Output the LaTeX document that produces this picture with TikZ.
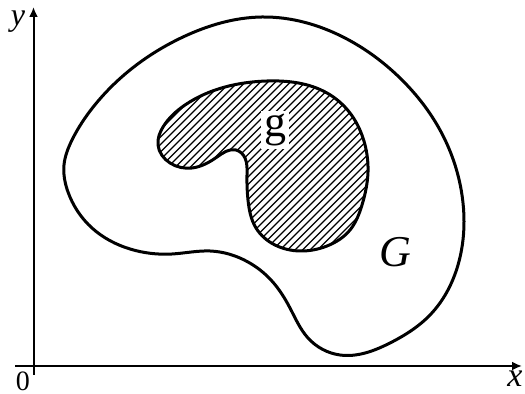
\documentclass[tikz,border=0pt]{standalone}
\usepackage{fontspec}
\setmainfont{Liberation Serif}
\usetikzlibrary{arrows.meta,hobby}
\begin{document}
\begin{tikzpicture}[x=0.5pt,y=-0.5pt,
  curve/.style={line width=1.5pt, line join=round},
  axis/.style={line width=1pt,-{Latex[length=5pt,width=4.5pt]}},
  hatch/.style={line width=0.55pt},
  lbl/.style={inner sep=0pt}]
\useasboundingbox (0,0) rectangle (525,394);
\newcommand\innerregion{(267,81) .. (327,93) .. (350,113) .. (363,138) .. (368,172) .. (362,205) .. (350,230) .. (327,246) .. (300,251) .. (275,245) .. (256,228) .. (248,200) .. (247,175) .. (245,158) .. (236,150) .. (217,157) .. (192,168) .. (170,163) .. (158,145) .. (163,127) .. (185,105) .. (225,87)}
% axes
\coordinate (o) at (33.5,366);
\coordinate (ybot) at (33.5,375);
\coordinate (ytop) at (33.5,7);
\coordinate (xleft) at (15,366);
\coordinate (xright) at (522,366);
\draw[axis] (ybot) -- (ytop);
\draw[axis] (xleft) -- (xright);
\node[lbl,font=\fontsize{16}{18}\selectfont\itshape] (ylab) at (18,22) {y};
\node[lbl,font=\fontsize{17}{19}\selectfont\itshape] (xlab) at (515,379) {x};
\node[lbl,font=\fontsize{14}{16}\selectfont] (zero) at (23,381) {0};
% outer region G
\draw[curve, use Hobby shortcut, closed=true]
  (262,17) .. (345,38) .. (400,78) .. (440,130) .. (462,195) .. (458,265) .. (430,315) .. (390,343) .. (340,355) .. (308,338) .. (290,308) .. (271,280) .. (248,262) .. (210,251) .. (172,254) .. (130,249) .. (92,228) .. (68,192) .. (64,165) .. (72,140) .. (94,106) .. (130,70) .. (183,37);
% inner region g
\begin{scope}
\clip[use Hobby shortcut, closed=true] \innerregion;
\foreach \c in {200,207.5,...,640}
  \draw[hatch] (\c-270,270) -- (\c-60,60);
\end{scope}
\draw[curve, use Hobby shortcut, closed=true] \innerregion;
\node[lbl,fill=white,inner sep=1.5pt,font=\fontsize{22}{24}\selectfont] (glab) at (275,130) {g};
\node[lbl,font=\fontsize{22}{24}\selectfont\itshape] (Glab) at (395,252) {G};
\end{tikzpicture}
\end{document}
